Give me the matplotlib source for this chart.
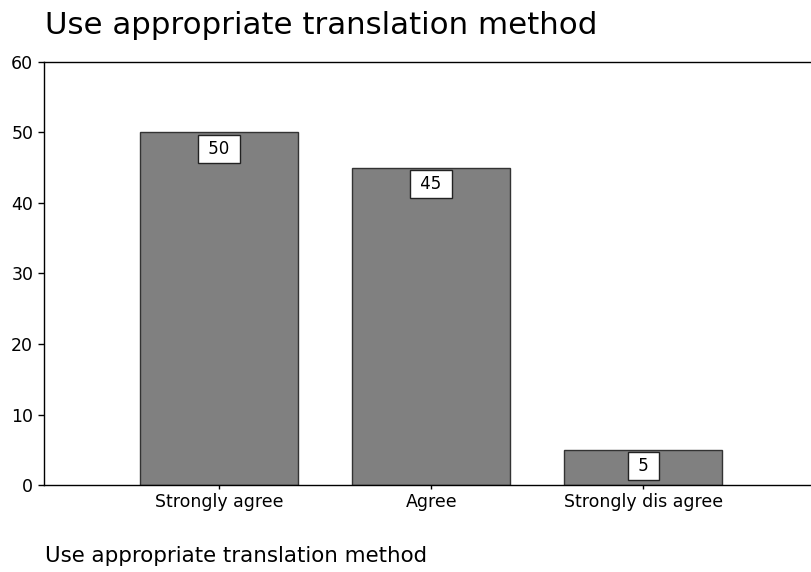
import matplotlib
matplotlib.use("Agg")
import matplotlib.pyplot as plt

categories = ["Strongly agree", "Agree", "Strongly dis agree"]
values = [50, 45, 5]
y_ticks = [0, 10, 20, 30, 40, 50, 60]
title = "Use appropriate translation method"

plt.rcParams["font.family"] = ["DejaVu Sans"]

fig = plt.figure(figsize=(8.11, 5.72), dpi=100)
ax = fig.add_axes([0.0543, 0.152, 0.9457, 0.7398])

x = list(range(len(categories)))
bars = ax.bar(x, values, width=0.745, color="#808080", edgecolor="#333333", linewidth=1.0)

# Etiquetas de valor dentro de cajas blancas
for bar, v in zip(bars, values):
    ax.annotate(f" {v} ", (bar.get_x() + bar.get_width() / 2, bar.get_height()),
                xytext=(0, -5.5), textcoords="offset points", ha="center", va="top",
                fontsize=12,
                bbox=dict(boxstyle="square,pad=0.3", fc="white", ec="#222222", lw=1.0))

ax.set_xlim(-0.825, 2.79)
ax.set_ylim(0, 60)
ax.set_yticks(y_ticks)
ax.set_xticks(x)
ax.set_xticklabels(categories, fontsize=12.5)
ax.tick_params(axis="y", labelsize=12.5, length=4.3, width=1, pad=3.5)
ax.tick_params(axis="x", length=3, width=1, pad=3)
for s in ["left", "bottom", "top"]:
    ax.spines[s].set_linewidth(1.0)
ax.spines["right"].set_visible(False)

fig.text(0.055, 0.9406, title, fontsize=22.2, ha="left", va="baseline")
fig.text(0.055, 0.018, title, fontsize=15.4, ha="left", va="baseline")

fig.savefig("out.png", dpi=100)
